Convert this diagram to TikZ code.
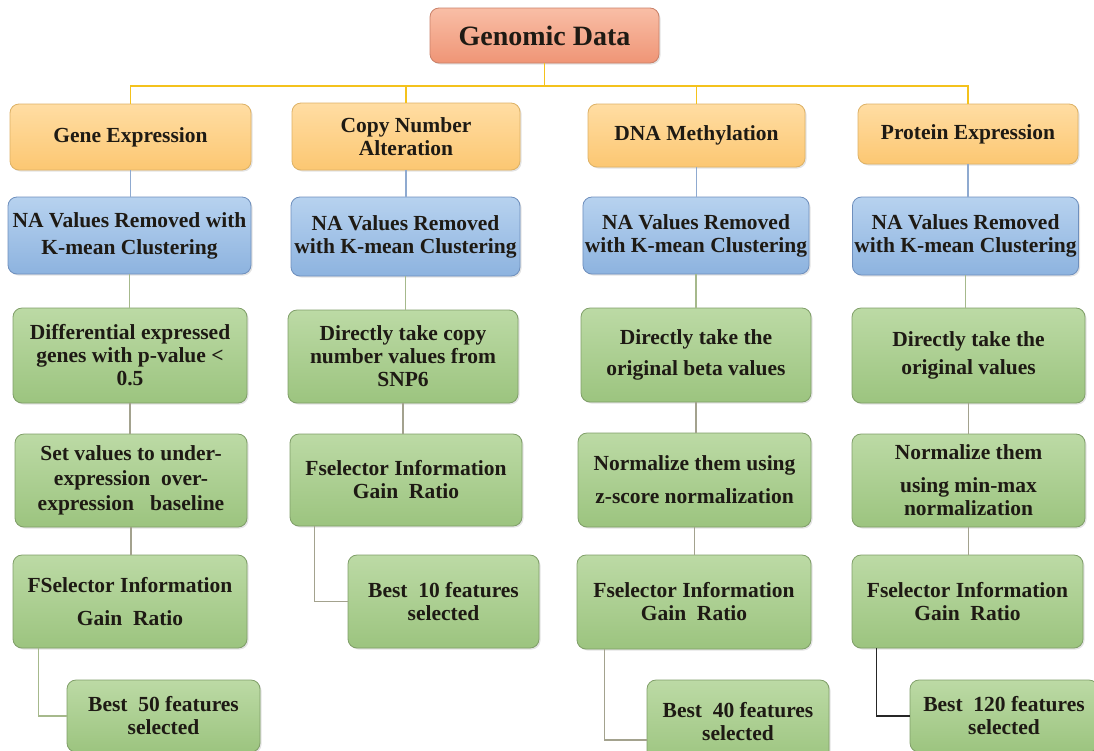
\documentclass[tikz,border=0pt]{standalone}
\usepackage{fontspec}
\setmainfont{Liberation Serif}
\usetikzlibrary{shadows}

\definecolor{txt}{HTML}{1E1A14}
\definecolor{rootT}{HTML}{F9BEA6}
\definecolor{rootB}{HTML}{EF9576}
\definecolor{rootD}{HTML}{C98068}
\definecolor{headT}{HTML}{FFDDA3}
\definecolor{headB}{HTML}{FCC772}
\definecolor{headD}{HTML}{DDB165}
\definecolor{naT}{HTML}{B7D2EF}
\definecolor{naB}{HTML}{8DB3DF}
\definecolor{naD}{HTML}{6E8FBD}
\definecolor{stT}{HTML}{BCDAA5}
\definecolor{stB}{HTML}{9CC47F}
\definecolor{stD}{HTML}{7F9E68}
\definecolor{yel}{HTML}{F4C21C}
\definecolor{bluel}{HTML}{8FAAD0}
\definecolor{grnl}{HTML}{A6B98C}
\definecolor{gryl}{HTML}{A3A28E}

\tikzset{
  box/.style={rounded corners=9pt, line width=0.8pt, align=center, inner sep=2pt,
    text=txt, font=\bfseries\fontsize{21.5}{23}\selectfont,
    drop shadow={opacity=0.22, shadow xshift=1.5pt, shadow yshift=-1.5pt}},
  rootbox/.style={box, draw=rootD, top color=rootT, bottom color=rootB,
    font=\bfseries\fontsize{28}{30}\selectfont},
  headbox/.style={box, draw=headD, top color=headT, bottom color=headB},
  nabox/.style={box, draw=naD, top color=naT, bottom color=naB},
  stepbox/.style={box, draw=stD, top color=stT, bottom color=stB},
  link/.style={line width=1.1pt},
  ylink/.style={link, draw=yel, line width=1.4pt},
  blink/.style={link, draw=bluel},
  glink/.style={link, draw=grnl},
  klink/.style={link, draw=gryl},
  dlink/.style={link, draw=black!85},
}

\begin{document}
\begin{tikzpicture}[x=1pt,y=-1pt]
\useasboundingbox (0,0) rectangle (1094,750);

% root
\node[rootbox, minimum width=229pt, minimum height=55pt] (root) at (544.5,35.5) {Genomic Data};

% data type headers
\node[headbox, minimum width=241pt, minimum height=66pt] (h1) at (130.5,137) {Gene Expression};
\node[headbox, minimum width=228pt, minimum height=67pt] (h2) at (406,136.5) {Copy Number\\Alteration};
\node[headbox, minimum width=217pt, minimum height=63pt] (h3) at (696.5,135.5) {DNA Methylation};
\node[headbox, minimum width=220pt, minimum height=60pt] (h4) at (968,134) {Protein Expression};

% missing value handling
\node[nabox, minimum width=243pt, minimum height=77pt, font=\bfseries\fontsize{21.5}{27}\selectfont] (b1) at (129.5,235.5) {NA Values Removed with\\K-mean Clustering};
\node[nabox, minimum width=229pt, minimum height=79pt] (b2) at (405.5,236.5) {NA Values Removed\\with K-mean Clustering};
\node[nabox, minimum width=226pt, minimum height=77pt] (b3) at (696,235.5) {NA Values Removed\\with K-mean Clustering};
\node[nabox, minimum width=225pt, minimum height=78pt] (b4) at (965.5,236) {NA Values Removed\\with K-mean Clustering};

% gene expression column
\node[stepbox, minimum width=234pt, minimum height=95pt] (g1a) at (130,355.5) {Differential expressed\\genes with p-value <\\0.5};
\node[stepbox, minimum width=232pt, minimum height=93pt, font=\bfseries\fontsize{21.5}{25}\selectfont] (g1b) at (131,480.5) {Set values to under-\\expression\ \ over-\\expression\ \ \ baseline};
\node[stepbox, minimum width=234pt, minimum height=93pt, font=\bfseries\fontsize{21.5}{33}\selectfont] (g1c) at (130,601.5) {FSelector Information\\Gain\ \ Ratio};
\node[stepbox, minimum width=193pt, minimum height=72pt] (g1d) at (163.5,716) {Best\ \ 50 features\\selected};

% copy number column
\node[stepbox, minimum width=230pt, minimum height=93pt] (g2a) at (403,356.5) {Directly take copy\\number values from\\SNP6};
\node[stepbox, minimum width=232pt, minimum height=92pt] (g2b) at (406,480) {Fselector Information\\Gain\ \ Ratio};
\node[stepbox, minimum width=191pt, minimum height=93pt] (g2c) at (443.5,601.5) {Best\ \ 10 features\\selected};

% methylation column
\node[stepbox, minimum width=230pt, minimum height=94pt, font=\bfseries\fontsize{21.5}{31}\selectfont] (g3a) at (696,355) {Directly take the\\original beta values};
\node[stepbox, minimum width=233pt, minimum height=94pt, font=\bfseries\fontsize{21.5}{33}\selectfont] (g3b) at (694.5,480) {Normalize them using\\z-score normalization};
\node[stepbox, minimum width=234pt, minimum height=94pt] (g3c) at (694,602) {Fselector Information\\Gain\ \ Ratio};
\node[stepbox, minimum width=182pt, minimum height=84pt] (g3d) at (738,722) {Best\ \ 40 features\\selected};

% protein column
\node[stepbox, minimum width=233pt, minimum height=95pt, font=\bfseries\fontsize{21.5}{28}\selectfont] (g4a) at (968.5,355.5) {Directly take the\\original values};
\node[stepbox, minimum width=233pt, minimum height=93pt] (g4b) at (968.5,480.5) {Normalize them\\[10pt]using min-max\\normalization};
\node[stepbox, minimum width=231pt, minimum height=93pt] (g4c) at (967.5,601.5) {Fselector Information\\Gain\ \ Ratio};
\node[stepbox, minimum width=188pt, minimum height=72pt] (g4d) at (1004,716) {Best\ \ 120 features\\selected};

% tree from the root to the four headers
\coordinate (bus) at (544.5,86);
\draw[ylink] (root.south) -- (bus);
\draw[ylink] (h1.north) |- (bus) -| (h4.north);
\draw[ylink] (h2.north) -- (h2.north |- bus);
\draw[ylink] (h3.north) -- (h3.north |- bus);

% header to missing value step
\foreach \c in {1,2,3,4}{
  \draw[blink] (h\c.south) -- (h\c.south |- b\c.north);
  \draw[glink] (b\c.south) -- (b\c.south |- g\c a.north);
}

% steps inside each column
\draw[klink] (g1a.south) -- (g1a.south |- g1b.north);
\draw[klink] (g1b.south) -- (g1b.south |- g1c.north);
\draw[klink] (g2a.south) -- (g2a.south |- g2b.north);
\draw[klink] (g3a.south) -- (g3a.south |- g3b.north);
\draw[klink] (g3b.south) -- (g3b.south |- g3c.north);
\draw[klink] (g4a.south) -- (g4a.south |- g4b.north);
\draw[klink] (g4b.south) -- (g4b.south |- g4c.north);

% elbows to the selected features
\draw[glink] ([xshift=26pt]g1c.south west) |- (g1d.west);
\draw[klink] ([xshift=25pt]g2b.south west) |- (g2c.west);
\draw[klink] ([xshift=28pt]g3c.south west) |- ([yshift=-18pt]g3d.west);
\draw[dlink] ([xshift=25pt]g4c.south west) |- (g4d.west);
\end{tikzpicture}
\end{document}
